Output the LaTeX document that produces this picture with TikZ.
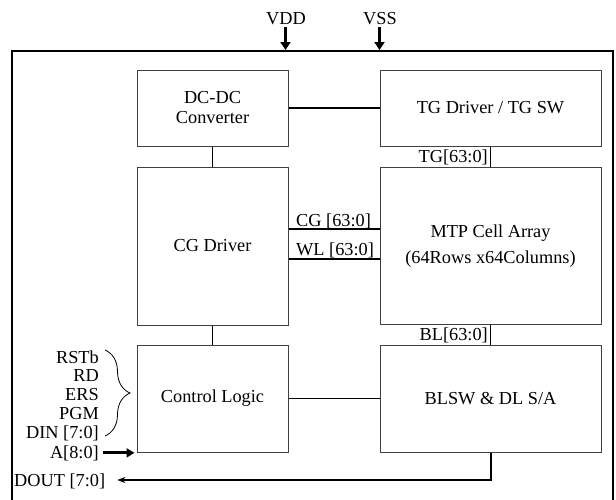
\documentclass[tikz,border=0pt]{standalone}
\usepackage{fontspec}
\setmainfont{Liberation Serif}
\usetikzlibrary{arrows.meta,decorations.pathreplacing,calc}
\newcommand\dgfont{\fontsize{18.3}{20}\selectfont}
\begin{document}
\begin{tikzpicture}[x=1pt,y=-1pt,
  blk/.style={draw=black!75,line width=1pt,inner sep=0pt,align=center,font=\dgfont},
  wire/.style={line width=1.5pt},
  lbl/.style={inner sep=0pt,font=\dgfont},
  pwr/.style={line width=3pt,-{Triangle[length=8pt,width=10pt]}},
  every node/.append style={text=black}]
\clip (0,0) rectangle (616,499);
\fill[white] (0,0) rectangle (616,499);
% outer frame
\draw[line width=2.5pt] (12,510) -- (12,51) -- (613,51) -- (613,510);
% blocks
\node[blk,minimum width=151pt,minimum height=76pt] (dcdc) at (212.5,108) {DC-DC\\Converter};
\node[blk,minimum width=221pt,minimum height=76pt] (tg) at (490.5,108) {TG Driver / TG SW};
\node[blk,minimum width=151pt,minimum height=158pt] (cg) at (212.5,246) {CG Driver};
\node[blk,minimum width=221pt,minimum height=157pt] (mtp) at (490.5,246) {MTP Cell Array\\[6pt](64Rows x64Columns)};
\node[blk,minimum width=151pt,minimum height=107pt] (ctl) at (212.5,398.5) {\raisebox{-2pt}{Control Logic}};
\node[blk,minimum width=221pt,minimum height=107pt] (blsw) at (490.5,398.5) {BLSW \& DL S/A};
% power
\node[lbl,anchor=base] (vdd) at (286,24) {VDD};
\node[lbl,anchor=base] (vss) at (380,24) {VSS};
\coordinate (vddin) at (285.5,50);
\coordinate (vssin) at (379.5,50);
\draw[pwr] (vdd.south -| vddin) ++(0,-3pt) -- (vddin);
\draw[pwr] (vss.south -| vssin) ++(0,-3pt) -- (vssin);
% connectors
\draw[wire] (dcdc.east) -- (tg.west);
\draw[wire] (dcdc.south) -- (cg.north);
\draw[wire] (tg.south) -- (mtp.north);
\draw[wire] ([yshift=17pt]cg.east) -- ([yshift=17pt]mtp.west);
\draw[wire] ([yshift=-13pt]cg.east) -- ([yshift=-13pt]mtp.west);
\draw[wire] (cg.south) -- (ctl.north);
\draw[wire] (ctl.east) -- (blsw.west);
\draw[wire] (mtp.south) -- (blsw.north);
% bus labels
\node[lbl,anchor=base east] (tgbus) at (488,162) {TG[63:0]};
\node[lbl,anchor=base east] (blbus) at (488,340) {BL[63:0]};
\node[lbl,anchor=base west] (cgbus) at (296,226) {CG [63:0]};
\node[lbl,anchor=base west] (wlbus) at (296,255) {WL [63:0]};
% control inputs
\node[lbl,anchor=base east] (rstb) at (99,363) {RSTb};
\node[lbl,anchor=base east] (rd) at (99,381) {RD};
\node[lbl,anchor=base east] (ers) at (99,400) {ERS};
\node[lbl,anchor=base east] (pgm) at (99,419) {PGM};
\node[lbl,anchor=base east] (din) at (99,438) {DIN [7:0]};
\node[lbl,anchor=base east] (addr) at (99,458) {A[8:0]};
\draw[line width=0.8pt,decorate,decoration={brace,amplitude=25pt}] (105,350) -- (105,436);
\draw[line width=3pt,-{Triangle[length=8pt,width=9pt]}] ([xshift=4pt]addr.east) -- ([xshift=-2pt]addr.east -| ctl.west);
% output
\node[lbl,anchor=base west] (dout) at (14,486) {DOUT [7:0]};
\coordinate (dcorner) at (491,480);
\draw[wire,-{Stealth[length=8pt,width=6pt]}] (blsw.south -| dcorner) -- (dcorner) -- ([xshift=12pt]dout.east |- dcorner);
\end{tikzpicture}
\end{document}
